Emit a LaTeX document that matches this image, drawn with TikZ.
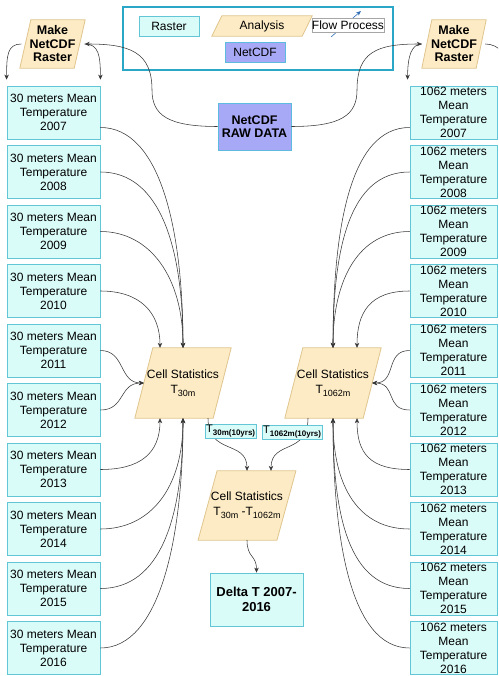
\documentclass[tikz,border=0pt]{standalone}
\usepackage{fontspec}
\setmainfont{Liberation Sans}
\usetikzlibrary{arrows.meta,calc,backgrounds}

\definecolor{rasterFill}{HTML}{DAFCF9}
\definecolor{rasterLine}{HTML}{62C6D6}
\definecolor{anaFill}{HTML}{FCEBC4}
\definecolor{anaLine}{HTML}{E0C58E}
\definecolor{cdfFill}{HTML}{A7A9F6}
\definecolor{cdfLine}{HTML}{5DBBE0}
\definecolor{frameLine}{HTML}{2AA6C6}
\definecolor{wireGray}{HTML}{383838}
\definecolor{flowBlue}{HTML}{2F6DB5}

% lowered, smaller text used for the T subscripts
\newcommand\lowtxt[2][9]{\raisebox{-0.45ex}{\fontsize{#1}{#1}\selectfont #2}}

\begin{document}
\begin{tikzpicture}[x=1pt,y=-1pt,
  every node/.style={inner sep=0pt, align=center, font=\fontsize{12}{14}\selectfont},
  raster/.style={draw=rasterLine, fill=rasterFill, line width=0.8pt,
                 minimum width=93pt, minimum height=53pt},
  rraster/.style={raster, minimum width=87pt},
  netcdf/.style={draw=cdfLine, fill=cdfFill, line width=0.8pt},
  paraface/.style={draw=anaLine, fill=anaFill, line width=0.8pt},
  boldtext/.style={font=\fontsize{12.5}{13.5}\selectfont\bfseries},
  stattext/.style={font=\fontsize{12}{15}\selectfont, minimum width=78pt, minimum height=70pt},
  wire/.style={draw=wireGray, line width=0.55pt, -{Stealth[length=5pt,width=4.5pt]}},
  tag/.style={draw=rasterLine, fill=rasterFill, line width=0.4pt, inner xsep=1pt,
              inner ysep=0.8pt, font=\fontsize{11}{11}\selectfont},
]
\useasboundingbox (0,0) rectangle (498,676);
\clip (0,0) rectangle (498,676);

% ---- legend ----
\node[draw=frameLine, line width=2.5pt, minimum width=270pt, minimum height=63pt] (legend) at (258,38.5) {};
\node[raster, minimum width=60pt, minimum height=20pt] (legRaster) at (169,26) {Raster};
\node[minimum width=90pt, minimum height=20pt] (legAna) at (262,26) {Analysis};
\coordinate (flowA) at (331,37);
\coordinate (flowB) at (361,11);
\draw[flowBlue, line width=0.6pt, -{Stealth[length=5pt,width=4pt]}] (flowA) -- (flowB);
\node[draw=gray!70, fill=white, line width=0.5pt, minimum width=72pt, minimum height=14pt] (legFlow) at (348,25) {Flow Process};
\node[netcdf, minimum width=60pt, minimum height=20pt] (legCdf) at (255,52) {NetCDF};

% ---- sources ----
\node[netcdf, boldtext, minimum width=73pt, minimum height=47pt] (raw) at (254.5,126.5) {NetCDF\\RAW DATA};
\node[boldtext, minimum width=54pt, minimum height=48pt] (ML) at (52.5,44) {Make\\NetCDF\\Raster};
\node[boldtext, minimum width=54pt, minimum height=48pt] (MR) at (454,44) {Make\\NetCDF\\Raster};

% ---- yearly rasters ----
\foreach \yr [count=\i from 0] in {2007,...,2016} {
  \node[raster] (L\yr) at (53.5,{112.5+59.5*\i}) {30 meters Mean\\Temperature\\\yr};
  \node[rraster] (R\yr) at (453.5,{112.5+59.5*\i}) {1062 meters\\Mean\\Temperature\\\yr};
}

% ---- analysis steps ----
\node[stattext] (c30) at (183,383) {Cell Statistics\\T\lowtxt{30m}};
\node[stattext] (c1062) at (333,383) {Cell Statistics\\T\lowtxt{1062m}};
\node[stattext, minimum width=78.5pt, minimum height=69pt] (cdiff) at (247,505.5) {Cell Statistics\\T\lowtxt{30m} -T\lowtxt{1062m}};
\node[raster, font=\fontsize{13}{15}\selectfont\bfseries] (delta) at (256.5,599.5) {Delta T 2007-\\2016};

% parallelogram bodies of the analysis nodes
\begin{scope}[on background layer]
  \foreach \n/\s in {ML/5.5, MR/5, c30/9, c1062/9, cdiff/9.5, legAna/5} {
    \path[paraface] ($(\n.south west)+(-\s,0)$) -- ($(\n.north west)+(\s,0)$)
      -- ($(\n.north east)+(\s,0)$) -- ($(\n.south east)+(-\s,0)$) -- cycle;
  }
\end{scope}

% ---- raw data to the two raster makers ----
\draw[wire] (raw.west) .. controls +(-50,0) and +(0,25) .. (152,90)
  .. controls +(0,-38) and +(45,0) .. ([xshift=5pt]ML.east);
\draw[wire] (raw.east) .. controls +(50,0) and +(0,25) .. (357,90)
  .. controls +(0,-38) and +(-45,0) .. ([xshift=-5pt]MR.west);

\draw[wire] ([xshift=-4pt]ML.west) .. controls +(-14,0) and +(0,-24) .. ([yshift=6pt]L2007.north west);
\draw[wire] ([xshift=5pt]ML.east) .. controls +(14,0) and +(0,-24) .. ([yshift=6pt]L2007.north east);
\draw[wire] ([xshift=-5pt]MR.west) .. controls +(-10,0) and +(0,-24) .. ([xshift=-2pt,yshift=6pt]R2007.north west);
\draw[wire] ([xshift=4pt]MR.east) .. controls +(14,0) and +(0,-24) .. ([xshift=12pt,yshift=6pt]R2007.north east);

% ---- 30 m rasters into Cell Statistics T30m ----
\draw[wire] ([yshift=-15pt]L2007.east) .. controls +(60,0) and +(0,-118) .. (c30.north);
\draw[wire] (L2008.east) .. controls +(60,0) and +(0,-100) .. (c30.north);
\draw[wire] (L2009.east) .. controls +(50,0) and +(0,-70) .. (c30.north);
\draw[wire] (L2010.east) .. controls +(40,0) and +(0,-35) .. ([xshift=-23pt]c30.north);
\draw[wire] (L2011.east) .. controls +(25,0) and +(-25,0) .. (c30.west);
\draw[wire] (L2012.east) .. controls +(25,0) and +(-25,0) .. (c30.west);
\draw[wire] (L2013.east) .. controls +(40,0) and +(0,35) .. ([xshift=-23pt]c30.south);
\draw[wire] (L2014.east) .. controls +(50,0) and +(0,70) .. (c30.south);
\draw[wire] (L2015.east) .. controls +(60,0) and +(0,100) .. (c30.south);
\draw[wire] (L2016.east) .. controls +(60,0) and +(0,118) .. (c30.south);

% ---- 1062 m rasters into Cell Statistics T1062m ----
\draw[wire] ([yshift=-15pt]R2007.west) .. controls +(-60,0) and +(0,-118) .. (c1062.north);
\draw[wire] (R2008.west) .. controls +(-60,0) and +(0,-100) .. (c1062.north);
\draw[wire] (R2009.west) .. controls +(-50,0) and +(0,-70) .. (c1062.north);
\draw[wire] (R2010.west) .. controls +(-40,0) and +(0,-35) .. ([xshift=24pt]c1062.north);
\draw[wire] (R2011.west) .. controls +(-25,0) and +(25,0) .. (c1062.east);
\draw[wire] (R2012.west) .. controls +(-25,0) and +(25,0) .. (c1062.east);
\draw[wire] (R2013.west) .. controls +(-40,0) and +(0,35) .. ([xshift=24pt]c1062.south);
\draw[wire] (R2014.west) .. controls +(-50,0) and +(0,70) .. (c1062.south);
\draw[wire] (R2015.west) .. controls +(-60,0) and +(0,100) .. (c1062.south);
\draw[wire] (R2016.west) .. controls +(-60,0) and +(0,118) .. (c1062.south);

% ---- difference and result ----
\draw[wire] ([xshift=25pt]c30.south) .. controls +(0,37) and +(0,-31) .. (cdiff.north);
\draw[wire] ([xshift=-25pt]c1062.south) .. controls +(0,37) and +(0,-31) .. ([xshift=24pt]cdiff.north);
\draw[wire] (cdiff.south) .. controls +(0,18) and +(0,-18) .. (delta.north);

\node[tag, anchor=west] (tag30) at (205,431) {T\lowtxt[8]{\bfseries 30m(10yrs)}};
\node[tag, anchor=west] (tag1062) at (262,432) {T\lowtxt[8]{\bfseries 1062m(10yrs)}};
\end{tikzpicture}
\end{document}
